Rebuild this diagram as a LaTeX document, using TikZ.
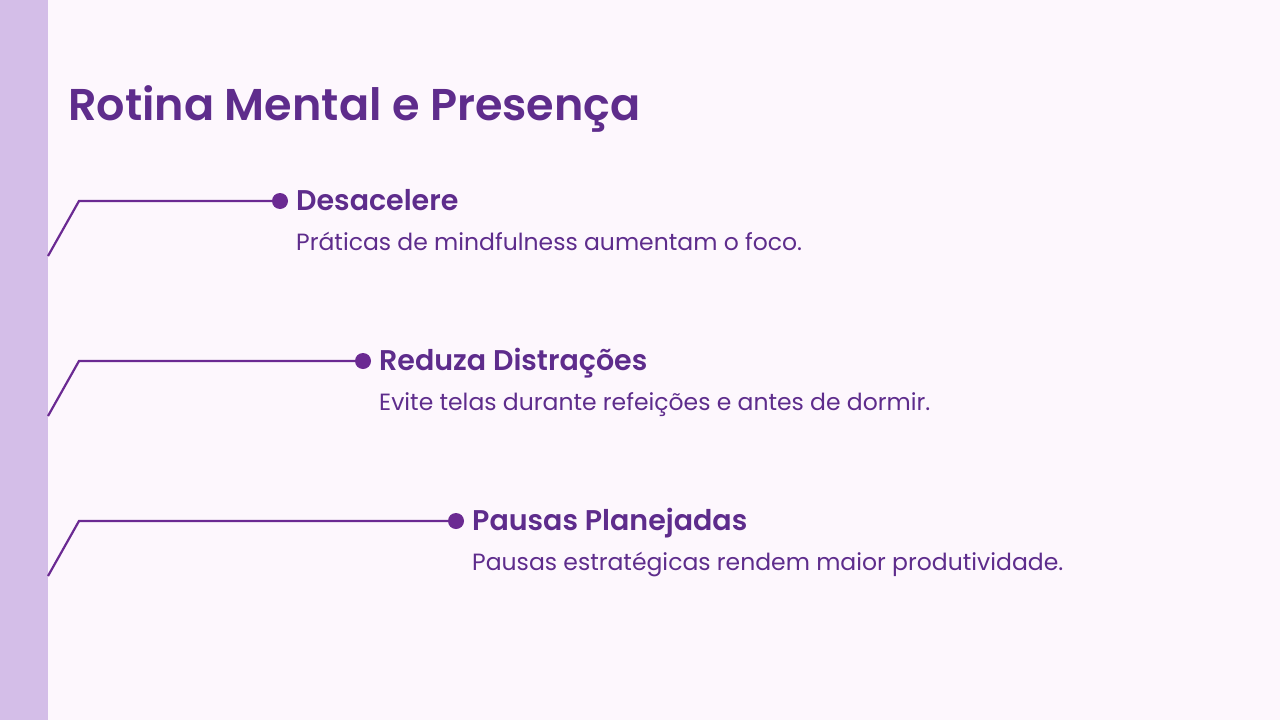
\documentclass[tikz,border=0pt]{standalone}
\usepackage{fontspec}
\setmainfont{Poppins}
\newfontfamily\semi{Poppins SemiBold}
\definecolor{bg}{HTML}{FDF7FD}
\definecolor{strip}{HTML}{D4BEE8}
\definecolor{pur}{HTML}{6B2A92}
\definecolor{txt}{HTML}{5E2C8C}
\tikzset{
  conn/.style={draw=pur,line width=2.2pt},
  dotn/.style={circle,fill=pur,inner sep=0pt,minimum size=16pt},
  head/.style={anchor=base west,inner sep=0pt,text=txt,font=\semi\fontsize{28.5}{30}\selectfont},
  body/.style={anchor=base west,inner sep=0pt,text=txt,font=\fontsize{23.5}{26}\selectfont},
}
\begin{document}
\begin{tikzpicture}[x=1pt,y=-1pt]
\fill[bg] (0,0) rectangle (1280,720);
\fill[strip] (0,0) rectangle (48,720);
\useasboundingbox (0,0) rectangle (1280,720);
\node[anchor=base west,inner sep=0pt,text=txt,font=\semi\fontsize{44.5}{48}\selectfont] (title) at (68,120) {Rotina Mental e Presença};
\foreach \i/\y/\dx/\h/\b in {1/201/280/Desacelere/Práticas de mindfulness aumentam o foco.,
  2/361/363/Reduza Distrações/Evite telas durante refeições e antes de dormir.,
  3/521/456/Pausas Planejadas/Pausas estratégicas rendem maior produtividade.}{
  \coordinate (s\i) at (48,\y+55);
  \coordinate (k\i) at (79,\y);
  \node[dotn] (d\i) at (\dx,\y) {};
  \node[head] (h\i) at (\dx+16,\y+9) {\h};
  \node[body] (b\i) at (\dx+16,\y+49) {\b};
  \draw[conn] (s\i) -- (k\i) -- (d\i.center);
}
\end{tikzpicture}
\end{document}
